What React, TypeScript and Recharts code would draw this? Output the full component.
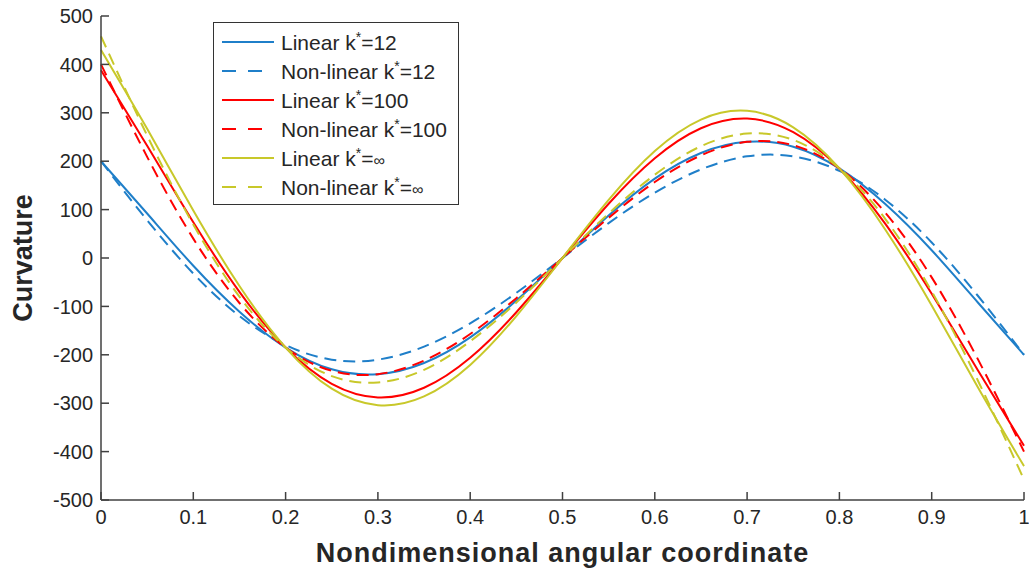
import React from 'react';
import { LineChart, Line, XAxis, YAxis, Legend } from 'recharts';

// sample positions along the angular coordinate
const xs = [0, 0.05, 0.1, 0.15, 0.2, 0.25, 0.3, 0.35, 0.4, 0.45, 0.5, 0.55, 0.6, 0.65, 0.7, 0.75, 0.8, 0.85, 0.9, 0.95, 1];

// curvature values
const linear12 = [200, 92, -16, -111, -185, -230, -240, -217, -164, -88, 0, 88, 164, 217, 240, 230, 185, 111, 16, -92, -200];
const nonLinear12 = [200, 78, -32, -120, -180, -210, -210, -183, -135, -72, 0, 72, 135, 183, 210, 210, 180, 120, 32, -78, -200];
const linear100 = [388, 232, 74, -70, -185, -260, -288, -268, -206, -112, 0, 112, 206, 268, 288, 260, 185, 70, -74, -232, -388];
const nonLinear100 = [400, 209, 40, -93, -185, -233, -240, -212, -157, -83, 0, 83, 157, 212, 240, 233, 185, 93, -40, -209, -400];
const linearInf = [430, 267, 98, -58, -185, -270, -304, -286, -221, -120, 0, 120, 221, 286, 304, 270, 185, 58, -98, -267, -430];
const nonLinearInf = [458, 253, 69, -80, -185, -244, -257, -231, -172, -92, 0, 92, 172, 231, 257, 244, 185, 80, -69, -253, -458];

const xTicks = [0, 0.1, 0.2, 0.3, 0.4, 0.5, 0.6, 0.7, 0.8, 0.9, 1];
const yTicks = [-500, -400, -300, -200, -100, 0, 100, 200, 300, 400, 500];

const data = xs.map((x, i) => ({
  x,
  l12: linear12[i],
  n12: nonLinear12[i],
  l100: linear100[i],
  n100: nonLinear100[i],
  linf: linearInf[i],
  ninf: nonLinearInf[i],
}));

const BLUE = '#1f7fc9';
const RED = '#ff0000';
const YELLOW = '#c8c82a';
const DASH = '12 7';
const AXIS = '#404040';
const TEXT = '#262626';
const FONT = '"Liberation Sans", Arial, sans-serif';

const series = [
  { key: 'l12', color: BLUE, dashed: false, label: 'Linear k', tail: '=12' },
  { key: 'n12', color: BLUE, dashed: true, label: 'Non-linear k', tail: '=12' },
  { key: 'l100', color: RED, dashed: false, label: 'Linear k', tail: '=100' },
  { key: 'n100', color: RED, dashed: true, label: 'Non-linear k', tail: '=100' },
  { key: 'linf', color: YELLOW, dashed: false, label: 'Linear k', tail: '=∞' },
  { key: 'ninf', color: YELLOW, dashed: true, label: 'Non-linear k', tail: '=∞' },
];

const renderLegend = () => (
  <div
    style={{
      border: '1.5px solid #333',
      background: '#fff',
      padding: '4px 6px 3px 8px',
      fontFamily: FONT,
      fontSize: 21,
      color: TEXT,
      width: 230,
    }}
  >
    {series.map((s) => (
      <div key={s.key} style={{ display: 'flex', alignItems: 'center', height: 29 }}>
        <svg width={52} height={10} style={{ marginRight: 7 }}>
          <line x1={0} y1={5} x2={52} y2={5} stroke={s.color} strokeWidth={2} strokeDasharray={s.dashed ? '14 12' : undefined} />
        </svg>
        <span style={{ whiteSpace: 'nowrap' }}>
          {s.label}
          <sup style={{ fontSize: 14 }}>*</sup>
          {s.tail.startsWith('=∞') ? (
            <>
              =<span style={{ fontSize: 16 }}>∞</span>
            </>
          ) : (
            s.tail
          )}
        </span>
      </div>
    ))}
  </div>
);

const tickStyle = { fontSize: 20, fill: TEXT, fontFamily: FONT };
const titleStyle = { fontSize: 27, fontWeight: 'bold', fill: TEXT, fontFamily: FONT, letterSpacing: 1 };

export default function App() {
  return (
    <div style={{ position: 'absolute', left: 0, top: 0, background: '#fff' }}>
      <LineChart width={1029} height={574} data={data} margin={{ top: 16, right: 5, bottom: 0, left: 0 }}>
        <XAxis
          dataKey="x"
          type="number"
          domain={[0, 1]}
          ticks={xTicks}
          tickFormatter={(v: number) => String(Number(v.toFixed(1)))}
          height={74}
          tickSize={-8}
          tickMargin={18}
          stroke={AXIS}
          strokeWidth={1.5}
          tick={tickStyle}
          label={{
            value: 'Nondimensional angular coordinate',
            position: 'insideBottom',
            offset: 12,
            style: titleStyle,
          }}
        />
        <XAxis
          xAxisId="top"
          dataKey="x"
          type="number"
          orientation="top"
          domain={[0, 1]}
          ticks={xTicks}
          height={0}
          tickSize={-8}
          tick={false}
          stroke={AXIS}
          strokeWidth={1.5}
        />
        <YAxis
          type="number"
          domain={[-500, 500]}
          ticks={yTicks}
          width={101}
          tickSize={-8}
          tickMargin={16}
          stroke={AXIS}
          strokeWidth={1.5}
          tick={tickStyle}
          label={{
            value: 'Curvature',
            angle: -90,
            position: 'insideLeft',
            offset: 22,
            style: { ...titleStyle, textAnchor: 'middle', letterSpacing: 0 },
          }}
        />
        <YAxis
          yAxisId="right"
          type="number"
          orientation="right"
          domain={[-500, 500]}
          ticks={yTicks}
          width={0}
          tickSize={-8}
          tick={false}
          stroke={AXIS}
          strokeWidth={1.5}
        />
        <Legend
          layout="vertical"
          align="center"
          verticalAlign="middle"
          content={renderLegend}
          wrapperStyle={{ position: 'absolute', left: 213, top: 22, width: 246, height: 'auto' }}
        />
        {series.map((s) => (
          <Line
            key={s.key}
            type="natural"
            dataKey={s.key}
            stroke={s.color}
            strokeWidth={2}
            strokeDasharray={s.dashed ? DASH : undefined}
            dot={false}
            activeDot={false}
            isAnimationActive={false}
          />
        ))}
      </LineChart>
    </div>
  );
}
